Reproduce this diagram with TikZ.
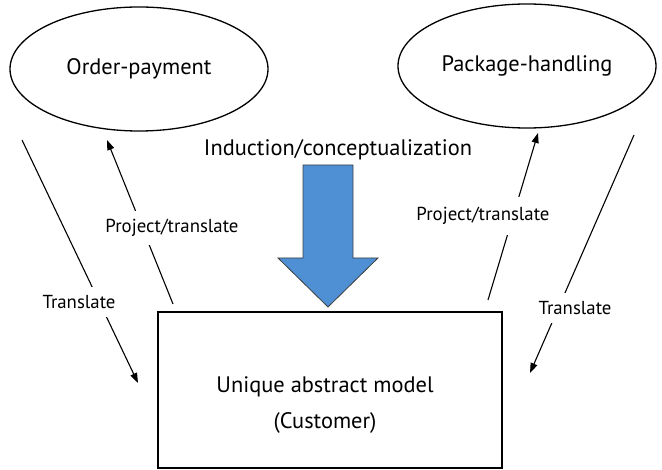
\documentclass[tikz,border=0pt]{standalone}
\usepackage{fontspec}
\setmainfont{PT Sans}
\usetikzlibrary{positioning, arrows.meta, shapes.geometric}
\definecolor{arrowblue}{HTML}{4F8FD3}

\begin{document}
\begin{tikzpicture}[
    x=1pt, y=-1pt,
    areabox/.style={
      ellipse, draw=black, line width=1.3pt,
      minimum width=258pt, minimum height=124pt,
      font=\fontsize{22.4}{26}\selectfont
    },
    modelbox/.style={
      rectangle, draw=black, line width=1.5pt,
      minimum width=344pt, minimum height=156pt
    },
    modeltext/.style={align=center, font=\fontsize{22.4}{36}\selectfont},
    lbl/.style={fill=white, inner sep=3pt, font=\fontsize{18.8}{22}\selectfont},
    arr/.style={-{Triangle[length=10pt, width=7pt]}, line width=1.1pt}
  ]
    \useasboundingbox (0,0) rectangle (662,470);
    \node[areabox] (order) at (139,69) {Order-payment};
    \node[areabox] (package) at (527,66) {Package-handling};
    \node[modelbox] (unique) at (330,390) {};
    \node[modeltext] (uniquetxt) at (325,405) {Unique abstract model\\(Customer)};
    \node[font=\fontsize{22.4}{26}\selectfont] (induct) at (338,150) {Induction/conceptualization};

    % blue induction arrow
    \draw[draw=black!75, fill=arrowblue, line width=0.8pt]
      (303,165) -- (353,165) -- (353,258) -- (378,258) -- (328,307)
      -- (278,258) -- (303,258) -- cycle;

    % left side
    \coordinate (lt1) at (22,140);
    \coordinate (lt2) at (138,383);
    \draw[arr] (lt1) -- (lt2);
    \node[lbl, inner ysep=8pt] (ltr) at (79,302) {Translate};
    \coordinate (lp1) at (173,304);
    \coordinate (lp2) at (107,140);
    \draw[arr] (lp1) -- (lp2);
    \node[lbl, inner ysep=8pt] (lpr) at (172,228) {Project/translate};

    % right side
    \coordinate (rp1) at (488,300);
    \coordinate (rp2) at (538,133);
    \draw[arr] (rp1) -- (rp2);
    \node[lbl, inner ysep=10pt] (rpr) at (483,216) {Project/translate};
    \coordinate (rt1) at (634,135);
    \coordinate (rt2) at (530,373);
    \draw[arr] (rt1) -- (rt2);
    \node[lbl, inner ysep=8pt] (rtr) at (575,308) {Translate};
  \end{tikzpicture}
\end{document}
